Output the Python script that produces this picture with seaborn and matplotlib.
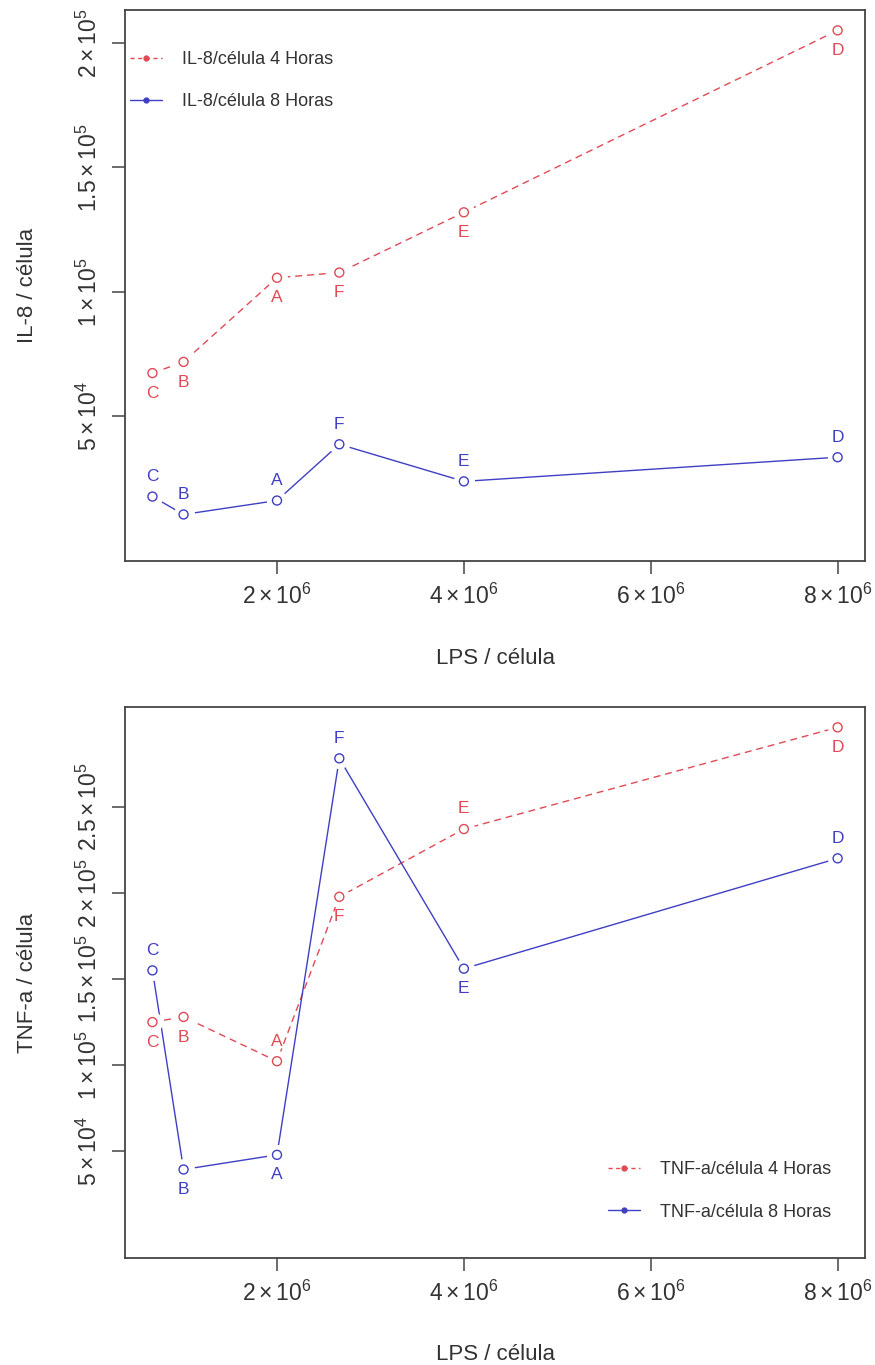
import pandas as pd
import seaborn as sns
import matplotlib.pyplot as plt
from matplotlib.lines import Line2D

# Data (x = LPS per cell)
letters = ['C', 'B', 'A', 'F', 'E', 'D']
lps = [0.667e6, 1.0e6, 2.0e6, 2.667e6, 4.0e6, 8.0e6]

il8_4h = [6.73e4, 7.18e4, 10.56e4, 10.77e4, 13.19e4, 20.5e4]
il8_8h = [1.77e4, 1.05e4, 1.61e4, 3.87e4, 2.38e4, 3.35e4]

tnf_4h = [12.5e4, 12.8e4, 10.23e4, 19.77e4, 23.7e4, 29.6e4]
tnf_8h = [15.5e4, 3.95e4, 4.8e4, 27.8e4, 15.6e4, 22.0e4]

# label placement: 1 = below, 3 = above (R style pos)
il8_4h_pos = [1, 1, 1, 1, 1, 1]
il8_8h_pos = [3, 3, 3, 3, 3, 3]
tnf_4h_pos = [1, 1, 3, 1, 3, 1]
tnf_8h_pos = [3, 1, 1, 3, 1, 3]

xticks = [2e6, 4e6, 6e6, 8e6]
xticklabels = [r'$2\times10^{6}$', r'$4\times10^{6}$', r'$6\times10^{6}$', r'$8\times10^{6}$']
il8_yticks = [5e4, 1e5, 1.5e5, 2e5]
il8_yticklabels = [r'$5\times10^{4}$', r'$1\times10^{5}$', r'$1.5\times10^{5}$', r'$2\times10^{5}$']
tnf_yticks = [5e4, 1e5, 1.5e5, 2e5, 2.5e5]
tnf_yticklabels = [r'$5\times10^{4}$', r'$1\times10^{5}$', r'$1.5\times10^{5}$',
                   r'$2\times10^{5}$', r'$2.5\times10^{5}$']

RED = '#e04a55'
BLUE = '#3f3fc4'
INK = '#333333'

sns.set_theme(style='white')
plt.rcParams['font.family'] = ['Liberation Sans', 'DejaVu Sans']
plt.rcParams['mathtext.fontset'] = 'custom'
plt.rcParams['mathtext.rm'] = 'Liberation Sans'
plt.rcParams['mathtext.it'] = 'Liberation Sans:italic'
plt.rcParams['mathtext.bf'] = 'Liberation Sans:bold'

fig = plt.figure(figsize=(8.75, 13.65), dpi=100)
ax1 = fig.add_axes([0.1429, 0.589, 0.8457, 0.4037])
ax2 = fig.add_axes([0.1429, 0.0784, 0.8457, 0.4037])


def draw_series(ax, y, pos, color, ls):
    df = pd.DataFrame({'lps': lps, 'val': y, 'lab': letters})
    sns.lineplot(data=df, x='lps', y='val', color=color, linestyle=ls,
                 linewidth=1.0, sort=False, ax=ax, zorder=2)
    # white pads give the R type="b" gap around each point
    sns.scatterplot(data=df, x='lps', y='val', color='white', s=230,
                    linewidth=0, ax=ax, zorder=3)
    sns.scatterplot(data=df, x='lps', y='val', marker='o', facecolors='none',
                    edgecolor=color, s=42, linewidth=1.0, ax=ax, zorder=4)
    for xi, yi, lab, p in zip(lps, y, letters, pos):
        off = -14.5 if p == 1 else 14.5
        ax.annotate(lab, (xi, yi), xytext=(0, off), textcoords='offset points',
                    ha='center', va='center', color=color, fontsize=12.5, zorder=5)


def style_axes(ax, yticks, yticklabels, ymax, ylabel, legend_labels, anchor):
    span_x = max(lps) - min(lps)
    ax.set_xlim(min(lps) - 0.04 * span_x, max(lps) + 0.04 * span_x)
    ax.set_ylim(-0.04 * ymax, ymax * 1.04)
    ax.set_xticks(xticks)
    ax.set_xticklabels(xticklabels)
    ax.set_yticks(yticks)
    ax.set_yticklabels(yticklabels, rotation=90, va='center')
    ax.tick_params(axis='both', direction='out', length=9.5, width=1.1,
                   color='#444444', labelcolor=INK, labelsize=16.5, pad=7,
                   bottom=True, left=True)
    for s in ax.spines.values():
        s.set_color('#444444')
        s.set_linewidth(1.3)
    ax.set_xlabel('LPS / célula', fontsize=16, color=INK)
    ax.set_ylabel(ylabel, fontsize=16, color=INK)
    ax.xaxis.set_label_coords(0.5, -0.157)
    ax.yaxis.set_label_coords(-0.118, 0.5)
    handles = [
        Line2D([0], [0], color=RED, linestyle=(0, (3, 2.5)), linewidth=1.0,
               marker='o', markersize=3.5),
        Line2D([0], [0], color=BLUE, linestyle='-', linewidth=1.0, marker='o',
               markersize=3.5),
    ]
    ax.legend(handles, legend_labels, loc='center left', bbox_to_anchor=anchor,
              frameon=False, fontsize=13, handlelength=1.75, labelspacing=1.4,
              handletextpad=1.1, borderpad=0, borderaxespad=0, labelcolor=INK)


draw_series(ax1, il8_4h, il8_4h_pos, RED, (0, (5, 3.5)))
draw_series(ax1, il8_8h, il8_8h_pos, BLUE, '-')
style_axes(ax1, il8_yticks, il8_yticklabels, max(il8_4h), 'IL-8 / célula',
           ['IL-8/célula 4 Horas', 'IL-8/célula 8 Horas'], (0.007, 0.872))

draw_series(ax2, tnf_4h, tnf_4h_pos, RED, (0, (5, 3.5)))
draw_series(ax2, tnf_8h, tnf_8h_pos, BLUE, '-')
style_axes(ax2, tnf_yticks, tnf_yticklabels, max(tnf_4h), 'TNF-a / célula',
           ['TNF-a/célula 4 Horas', 'TNF-a/célula 8 Horas'], (0.653, 0.1216))

fig.savefig('out.png', dpi=100)
